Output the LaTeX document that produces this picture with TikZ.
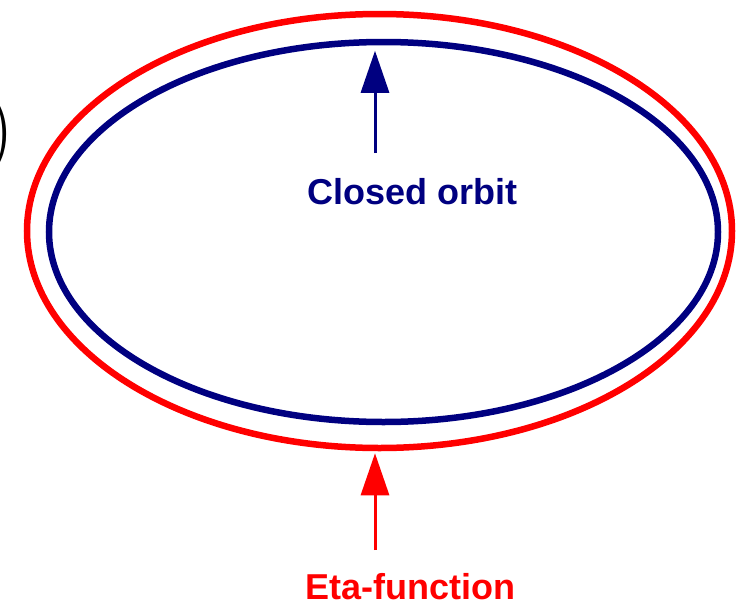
\documentclass[tikz,border=0pt]{standalone}
\usepackage{fontspec}
\setsansfont{Liberation Sans}
\usepackage{tikz}
\usetikzlibrary{arrows.meta,positioning,shapes.geometric}
\usepackage{xcolor}
\definecolor{orbitblue}{RGB}{0,0,128}
\definecolor{etared}{RGB}{255,0,0}

\begin{document}
\begin{tikzpicture}[
    x=1pt,y=-1pt,
    every node/.style={font=\sffamily\bfseries\fontsize{36}{40}\selectfont},
    ring/.style={ellipse,draw,line width=6.5pt,inner sep=0pt},
    tag/.style={anchor=base,inner sep=0pt},
    arrow/.style={-{Triangle[width=28pt,length=42pt]},line width=3pt}
  ]
    \useasboundingbox (0,0) rectangle (736,605);
    % the two curves
    \node[ring,draw=etared,minimum width=705pt,minimum height=434pt] (eta) at (379.5,231) {};
    \node[ring,draw=orbitblue,minimum width=669pt,minimum height=380pt] (orbit) at (383.5,232) {};
    % cut-off bracket at the left border
    \node[anchor=east,inner sep=0pt,font=\rmfamily\mdseries\fontsize{84}{84}\selectfont] (paren) at (14,135) {)};
    % labels
    \node[tag,text=orbitblue] (orbitlabel) at (412.5,204) {Closed orbit};
    \node[tag,text=etared] (etalabel) at (410.5,599) {Eta-function};
    \coordinate (orbitfoot) at (375,153);
    \coordinate (etafoot) at (375,550);
    \draw[arrow,orbitblue,shorten >=12pt] (orbitfoot) -- (orbitfoot |- orbit.north);
    \draw[arrow,etared,shorten >=2pt] (etafoot) -- (etafoot |- eta.south);
  \end{tikzpicture}
\end{document}
